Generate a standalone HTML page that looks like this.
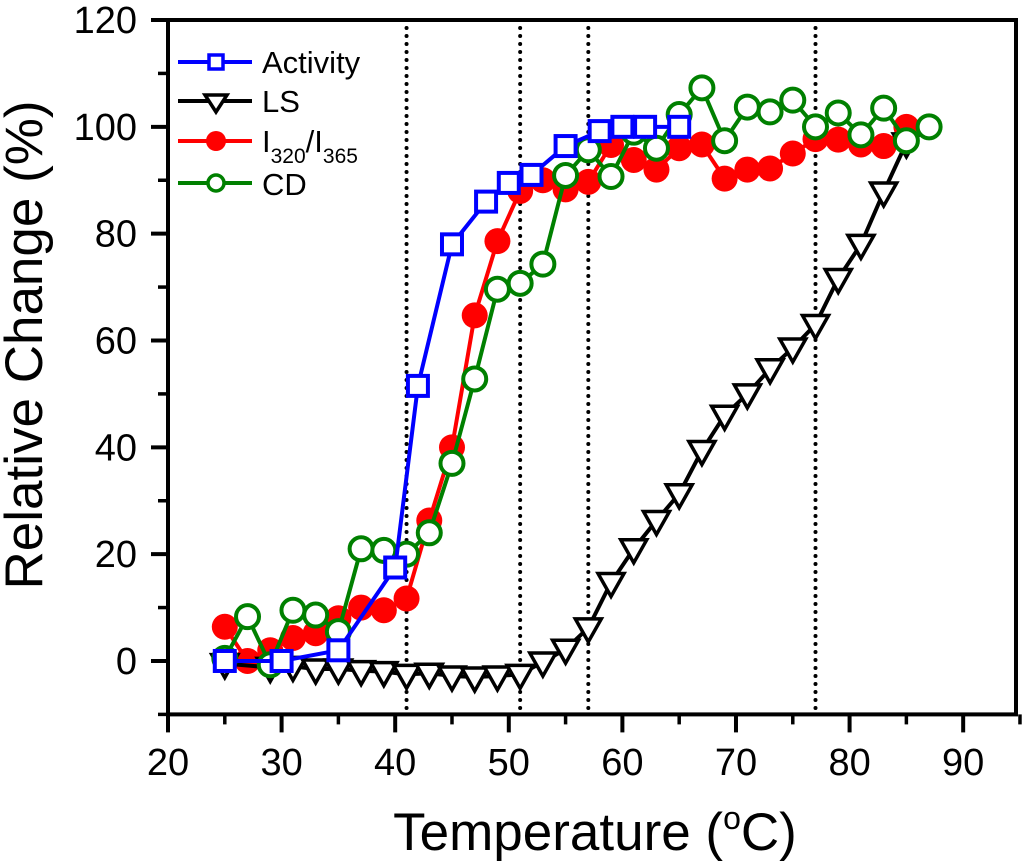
<!DOCTYPE html>
<html><head><meta charset="utf-8"><style>
html,body{margin:0;padding:0;background:#fff;}
svg{display:block;font-family:"Liberation Sans",Arial,sans-serif;}
</style></head><body>
<svg id="chart" width="1024" height="861" viewBox="0 0 1024 861">
<g id="plot"></g>
<text x="262" y="73" font-size="31">Activity</text>
<text x="262" y="112" font-size="31">LS</text>
<text x="262" y="152" font-size="31">I<tspan font-size="21" dy="11">320</tspan><tspan dy="-11">/I</tspan><tspan font-size="21" dy="11">365</tspan></text>
<text x="262" y="195" font-size="31">CD</text>
<text x="595" y="850" font-size="53" text-anchor="middle">Temperature (<tspan font-size="32" dy="-21">o</tspan><tspan dy="21">C)</tspan></text>
<text x="0" y="0" font-size="53" text-anchor="middle" transform="translate(42,345) rotate(-90)">Relative Change (%)</text>
</svg>
<script>
const actT=[25,30,35,40,42,45,48,50,52,55,58,60,62,65];
const actV=[0,0,2,17.5,51.5,78,86,89.5,91,96.4,99.2,100,100,100];
const lsT=[25,29,31,33,35,37,39,41,43,45,47,49,51,53,55,57,59,61,63,65,67,69,71,73,75,77,79,81,83,85];
const lsV=[-0.5,-1.2,-1,-1.5,-1.5,-1.8,-2,-2.5,-2.3,-2.8,-3,-2.8,-2.5,-0.2,2.2,6.2,14.7,21,26.3,31.3,39.4,46,50,54.7,58.6,63,71.6,78,87.8,97];
const redT=[25,27,29,31,33,35,37,39,41,43,45,47,49,51,53,55,57,59,61,63,65,67,69,71,73,75,77,79,81,83,85];
const redV=[6.4,0,2,4.3,5.2,8,10,9.5,11.7,26.3,40,64.7,78.6,88,90,88.3,89.7,96.6,93.8,92,96,96.7,90.3,92,92.2,95,97.7,97.6,96.7,96.4,100];
const cdT=[25,27,29,31,33,35,37,39,41,43,45,47,49,51,53,55,57,59,61,63,65,67,69,71,73,75,77,79,81,83,85,87];
const cdV=[0.5,8.3,-0.7,9.5,8.6,5.5,21,20.7,20,24,37,52.8,69.6,70.7,74.3,90.9,95.7,90.7,99,96,102.3,107.3,97.4,103.7,102.8,105,100,102.6,98.5,103.5,97.4,100];
const xTicks=[20,30,40,50,60,70,80,90];
const yTicks=[0,20,40,60,80,100,120];
const vLines=[41,51,57,77];

const X0=168,X1=1016,Y0=20,Y1=714.4;
const xMin=20,xMax=94.65,yMin=-10,yMax=120;
function sx(t){return X0+(t-xMin)/(xMax-xMin)*(X1-X0);}
function sy(v){return Y1-(v-yMin)/(yMax-yMin)*(Y1-Y0);}
const NS='http://www.w3.org/2000/svg';
const g=document.getElementById('plot');
function mk(tag,attrs,parent){const e=document.createElementNS(NS,tag);for(const k in attrs)e.setAttribute(k,attrs[k]);(parent||g).appendChild(e);return e;}

vLines.forEach(t=>{
 const l=mk('line',{x1:sx(t),x2:sx(t),y1:Y0,y2:Y1,stroke:'#000','stroke-width':4,'stroke-dasharray':'0 8','stroke-linecap':'round'});
 
 
});

function series(T,V,color,name,marker){
 const grp=mk('g',{});
 
 
 const pts=T.map((t,i)=>sx(t)+','+sy(V[i])).join(' ');
 const pl=mk('polyline',{points:pts,fill:'none',stroke:color,'stroke-width':4,'stroke-linejoin':'round'},grp);
 
 
 T.forEach((t,i)=>{
  const x=sx(t),y=sy(V[i]);let m;
  if(marker==='square'){m=mk('rect',{x:x-10,y:y-10,width:20,height:20,fill:'#fff',stroke:color,'stroke-width':4},grp);}
  else if(marker==='tri'){m=mk('polygon',{points:(x-13)+','+(y-9)+' '+(x+13)+','+(y-9)+' '+x+','+(y+14),fill:'#fff',stroke:color,'stroke-width':3.5},grp);}
  else if(marker==='dot'){m=mk('circle',{cx:x,cy:y,r:13,fill:color},grp);}
  else {m=mk('circle',{cx:x,cy:y,r:11.5,fill:'#fff',stroke:color,'stroke-width':4},grp);}
  
  
 });
}
series(redT,redV,'#ff0000','i320-i365','dot');
series(lsT,lsV,'#000000','ls','tri');
series(cdT,cdV,'#008000','cd','circle');
series(actT,actV,'#0000ff','activity','square');

const fr=mk('rect',{x:X0,y:Y0,width:X1-X0,height:Y1-Y0,fill:'none',stroke:'#000','stroke-width':4});



xTicks.forEach(t=>{
 mk('line',{x1:sx(t),x2:sx(t),y1:Y1,y2:Y1+18,stroke:'#000','stroke-width':4});
 mk('line',{x1:sx(t+5),x2:sx(t+5),y1:Y1,y2:Y1+10,stroke:'#000','stroke-width':3.5});
 const tx=mk('text',{x:sx(t),y:775,'text-anchor':'middle','font-size':38});
 tx.textContent=t;
 
 
});
yTicks.forEach(v=>{
 mk('line',{x1:X0-17,x2:X0,y1:sy(v),y2:sy(v),stroke:'#000','stroke-width':4});
 if(v<120) mk('line',{x1:X0-10,x2:X0,y1:sy(v+10),y2:sy(v+10),stroke:'#000','stroke-width':3.5});
 const tx=mk('text',{x:137,y:sy(v)+13,'text-anchor':'end','font-size':38});
 tx.textContent=v;
 
 
});
mk('line',{x1:X0-10,x2:X0,y1:sy(-10),y2:sy(-10),stroke:'#000','stroke-width':3.5});

const legend=[['Activity','#0000ff','square'],['LS','#000000','tri'],['I320/I365','#ff0000','dot'],['CD','#008000','circle']];
const ly=[62,101,141,183];
legend.forEach((e,i)=>{
 const lg=mk('g',{});
 
 
 const y=ly[i];
 mk('line',{x1:178,x2:252,y1:y,y2:y,stroke:e[1],'stroke-width':4},lg);
 if(e[2]==='square')mk('rect',{x:209,y:y-7,width:14,height:14,fill:'#fff',stroke:e[1],'stroke-width':3.5},lg);
 else if(e[2]==='tri')mk('polygon',{points:'205,'+(y-6)+' 227,'+(y-6)+' 216,'+(y+11),fill:'#fff',stroke:e[1],'stroke-width':3.5},lg);
 else if(e[2]==='dot')mk('circle',{cx:216,cy:y,r:10,fill:e[1]},lg);
 else mk('circle',{cx:216,cy:y,r:8,fill:'#fff',stroke:e[1],'stroke-width':3.5},lg);
});
</script>
</body></html>
